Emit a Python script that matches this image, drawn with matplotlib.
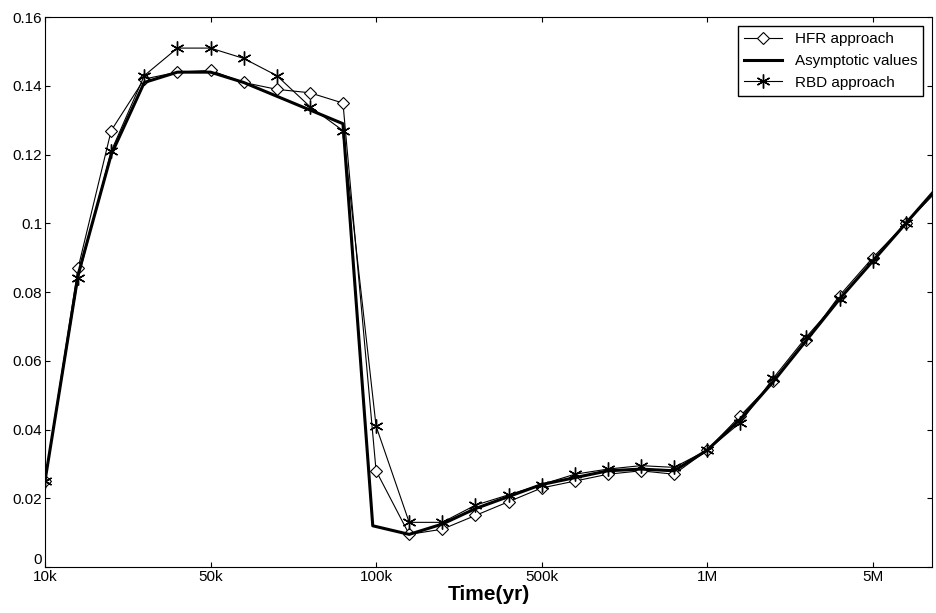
import matplotlib
matplotlib.use("Agg")
import matplotlib.pyplot as plt

plt.rcParams["font.family"] = ["Liberation Sans", "DejaVu Sans"]

# points are evenly spaced along the time axis (index positions)
tick_pos = [0, 5, 10, 15, 20, 25]
tick_labels = ["10k", "50k", "100k", "500k", "1M", "5M"]

hfr = [0.025, 0.087, 0.127, 0.142, 0.144, 0.1445, 0.141, 0.139, 0.138, 0.135,
       0.028, 0.0095, 0.011, 0.015, 0.019, 0.023, 0.025, 0.027, 0.028, 0.027,
       0.034, 0.044, 0.054, 0.066, 0.079, 0.090, 0.100, 0.111]
asym = [0.025, 0.085, 0.120, 0.141, 0.144, 0.144, 0.141, 0.137, 0.133, 0.129,
        0.012, 0.0095, 0.0125, 0.017, 0.0205, 0.024, 0.026, 0.028, 0.0285, 0.028,
        0.034, 0.043, 0.054, 0.066, 0.078, 0.089, 0.100, 0.111]
rbd = [0.025, 0.084, 0.121, 0.143, 0.151, 0.151, 0.148, 0.143, 0.134, 0.127,
       0.041, 0.013, 0.013, 0.018, 0.021, 0.024, 0.027, 0.0285, 0.0295, 0.029,
       0.034, 0.042, 0.055, 0.067, 0.078, 0.089, 0.100, 0.110]

# asymptotic curve drops just before 100k
asym_x = list(range(10)) + [9.9] + list(range(11, 28))

fig = plt.figure(figsize=(9.37, 6.13), dpi=100)
ax = fig.add_axes([0.048, 0.075, 0.947, 0.897])
x = list(range(len(hfr)))
ax.plot(x, hfr, color="black", lw=0.8, marker="D", ms=6, mfc="white",
        mec="black", mew=0.8, label="HFR approach")
ax.plot(asym_x, asym, color="black", lw=2.2, label="Asymptotic values")
ax.plot(x, rbd, color="black", lw=0.8, marker=(6, 2, 0), ms=10,
        mec="black", mew=1.0, label="RBD approach")

ax.set_xlim(0, 26.8)
ax.set_ylim(0, 0.16)
ax.set_xticks(tick_pos, labels=tick_labels)
ax.set_yticks([0, 0.02, 0.04, 0.06, 0.08, 0.1, 0.12, 0.14, 0.16],
              labels=["0", "0.02", "0.04", "0.06", "0.08", "0.1", "0.12", "0.14", "0.16"])
ax.tick_params(direction="in", top=True, right=True, labelsize=11, pad=2)
ax.get_yticklabels()[0].set_verticalalignment("bottom")
ax.set_xlabel("Time(yr)", fontsize=15, fontweight="bold", labelpad=1)
ax.legend(loc="upper right", fontsize=11, fancybox=False, edgecolor="black",
          framealpha=1, handlelength=2.5, borderaxespad=0.6)
fig.savefig("out.png", dpi=100)
